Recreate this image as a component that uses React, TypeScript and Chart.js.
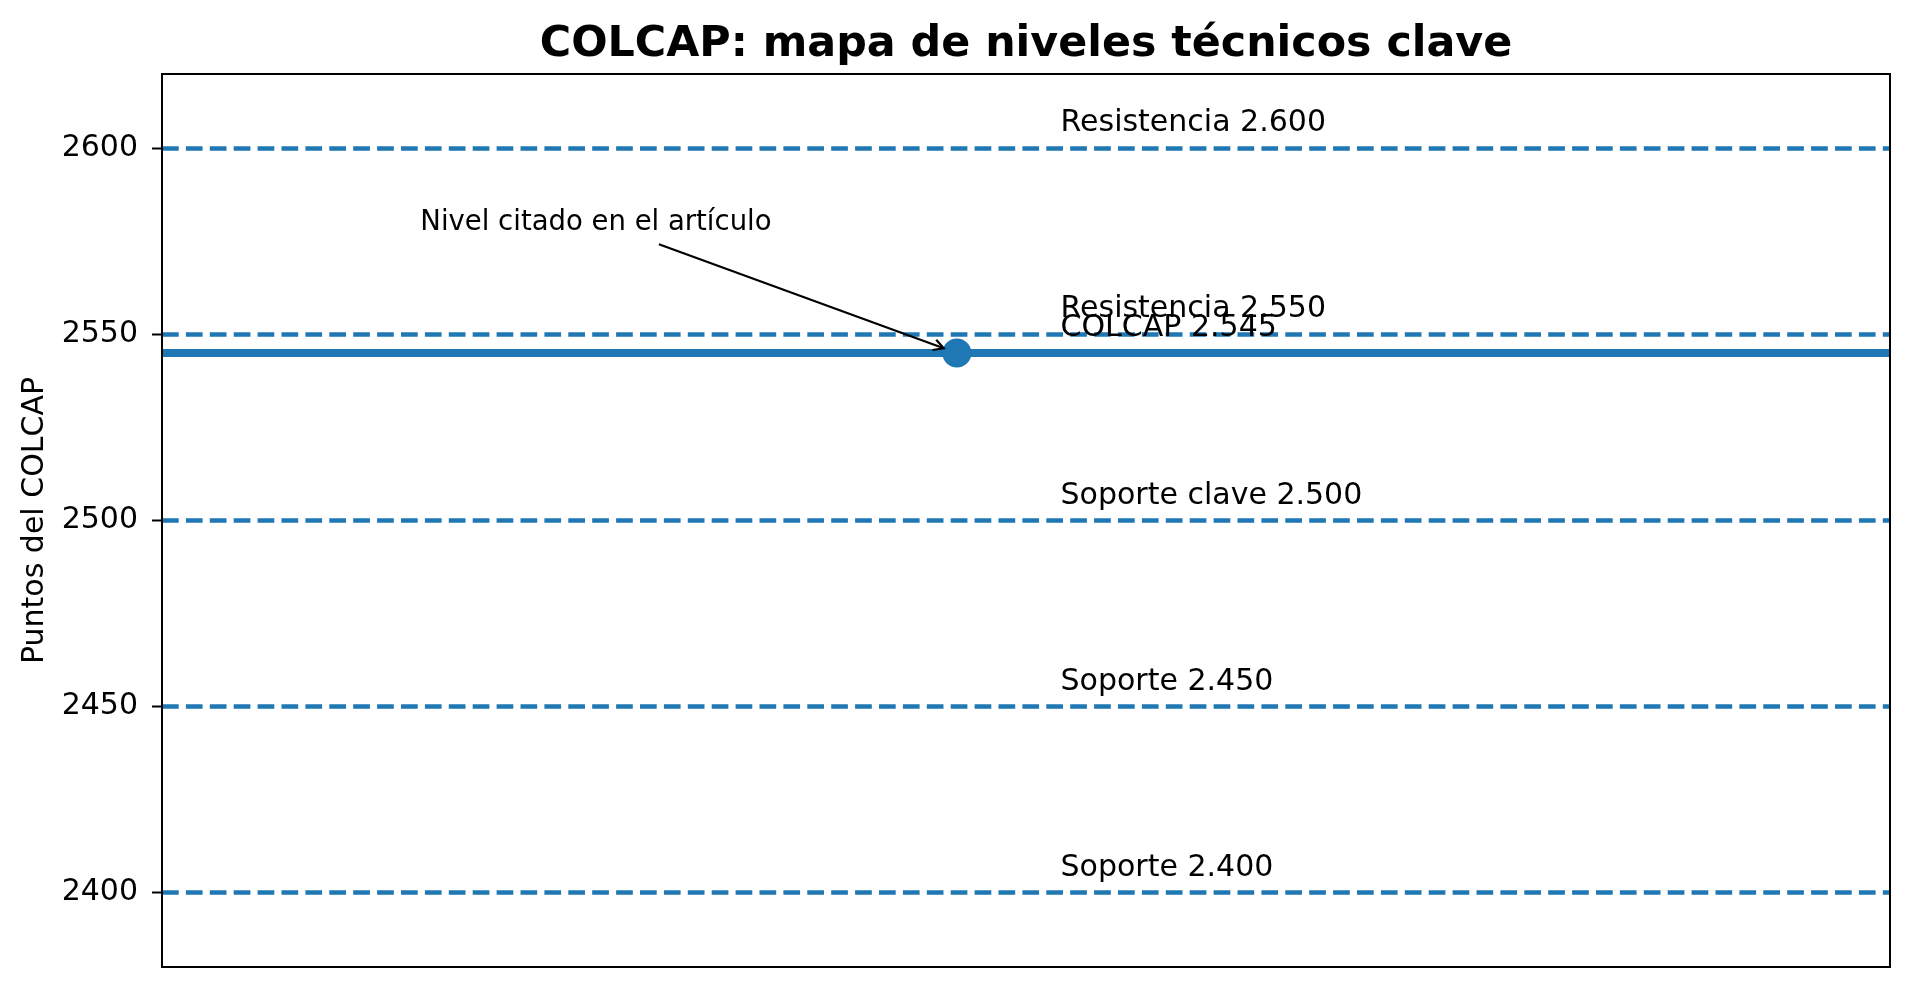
import React, { useEffect, useRef } from "react";
import { Chart, registerables } from "chart.js";

Chart.register(...registerables);

// ---- data ----
const levelValues = [2600, 2550, 2500, 2450, 2400];
const levelLabels = [
  "Resistencia 2.600",
  "Resistencia 2.550",
  "Soporte clave 2.500",
  "Soporte 2.450",
  "Soporte 2.400",
];
const currentValue = 2545;
const currentLabel = "COLCAP 2.545";
const yTicks = [2400, 2450, 2500, 2550, 2600];
const yRange = [2380, 2620];
const xRange = [0, 1];
const pointX = 0.46;
const labelX = 0.52;
const annotationText = "Nivel citado en el artículo";
const annotationPos = { x: 0.1495, y: 2578 };
const titleText = "COLCAP: mapa de niveles técnicos clave";
const yAxisTitle = "Puntos del COLCAP";

const BLUE = "#1f77b4";
const FONT = "'DejaVu Sans', sans-serif";
const W_PX = 1912;
const H_PX = 989;

const overlayPlugin = {
  id: "overlay",
  afterDatasetsDraw(chart: any) {
    const { ctx, scales } = chart;
    const xs = scales.x;
    const ys = scales.y;
    ctx.save();
    // level labels
    ctx.fillStyle = "#000";
    ctx.font = `30px ${FONT}`;
    ctx.textAlign = "left";
    ctx.textBaseline = "alphabetic";
    const lx = xs.getPixelForValue(labelX);
    levelValues.forEach((v, i) => {
      ctx.fillText(levelLabels[i], lx, ys.getPixelForValue(v) - 17);
    });
    ctx.fillText(currentLabel, lx, ys.getPixelForValue(currentValue) - 17);

    // annotation
    ctx.font = `27.5px ${FONT}`;
    const tx = xs.getPixelForValue(annotationPos.x);
    const ty = ys.getPixelForValue(annotationPos.y);
    ctx.fillText(annotationText, tx, ty);
    const w = ctx.measureText(annotationText).width;
    const cx = tx + w / 2;
    const cy = ty - 9;
    const px = xs.getPixelForValue(pointX);
    const py = ys.getPixelForValue(currentValue);
    const len = Math.hypot(px - cx, py - cy);
    const dx = (px - cx) / len;
    const dy = (py - cy) / len;
    const t0 = (ty + 14 - cy) / dy;
    const sx = cx + dx * t0;
    const sy = cy + dy * t0;
    const ex = px - dx * 14;
    const ey = py - dy * 14;
    ctx.strokeStyle = "#000";
    ctx.lineWidth = 2.2;
    ctx.lineCap = "butt";
    ctx.beginPath();
    ctx.moveTo(sx, sy);
    ctx.lineTo(ex, ey);
    ctx.stroke();
    const L = 10;
    const W = 5.5;
    const nx = -dy;
    const ny = dx;
    ctx.beginPath();
    ctx.moveTo(ex - dx * L + nx * W, ey - dy * L + ny * W);
    ctx.lineTo(ex, ey);
    ctx.lineTo(ex - dx * L - nx * W, ey - dy * L - ny * W);
    ctx.stroke();
    ctx.restore();
  },
  afterDraw(chart: any) {
    const { ctx, chartArea } = chart;
    ctx.save();
    // frame
    ctx.strokeStyle = "#000";
    ctx.lineWidth = 2;
    ctx.strokeRect(
      chartArea.left,
      chartArea.top,
      chartArea.right - chartArea.left,
      chartArea.bottom - chartArea.top
    );
    // title
    ctx.fillStyle = "#000";
    ctx.font = `bold 42.8px ${FONT}`;
    ctx.textAlign = "center";
    ctx.textBaseline = "alphabetic";
    ctx.fillText(titleText, (chartArea.left + chartArea.right) / 2, 56);
    // y label
    ctx.font = `30px ${FONT}`;
    ctx.translate(43, (chartArea.top + chartArea.bottom) / 2);
    ctx.rotate(-Math.PI / 2);
    ctx.fillText(yAxisTitle, 0, 0);
    ctx.restore();
  },
};

export default function App() {
  const ref = useRef<HTMLCanvasElement | null>(null);
  useEffect(() => {
    if (!ref.current) return;
    const dashed = levelValues.map((v) => ({
      data: [
        { x: xRange[0], y: v },
        { x: xRange[1], y: v },
      ],
      borderColor: BLUE,
      borderWidth: 4.5,
      borderDash: [16.7, 7.2],
      borderCapStyle: "butt" as const,
      pointRadius: 0,
      fill: false,
      order: 3,
    }));
    const chart = new Chart(ref.current, {
      type: "line",
      data: {
        datasets: [
          ...dashed,
          {
            data: [
              { x: xRange[0], y: currentValue },
              { x: xRange[1], y: currentValue },
            ],
            borderColor: BLUE,
            borderWidth: 8,
            borderCapStyle: "butt",
            pointRadius: 0,
            fill: false,
            order: 2,
          },
          {
            data: [{ x: pointX, y: currentValue }],
            showLine: false,
            pointRadius: 14.5,
            pointHoverRadius: 14.5,
            pointBackgroundColor: BLUE,
            pointBorderWidth: 0,
            borderColor: BLUE,
            order: 1,
          },
        ] as any,
      },
      options: {
        animation: false,
        responsive: false,
        devicePixelRatio: 1,
        events: [],
        layout: { autoPadding: false, padding: { left: 0, right: 22, top: 74, bottom: 22 } },
        plugins: {
          legend: { display: false },
          title: { display: false },
          tooltip: { enabled: false },
        },
        scales: {
          x: { type: "linear", min: xRange[0], max: xRange[1], display: false },
          y: {
            type: "linear",
            min: yRange[0],
            max: yRange[1],
            afterBuildTicks: (scale: any) => {
              scale.ticks = yTicks.map((v) => ({ value: v }));
            },
            afterFit: (scale: any) => {
              scale.width = 162;
              scale.paddingTop = 0;
              scale.paddingBottom = 0;
            },
            ticks: {
              font: { family: FONT, size: 30 },
              color: "#000",
              padding: 14,
              callback: (v: any) => String(v),
            },
            grid: {
              drawOnChartArea: false,
              drawTicks: true,
              tickLength: 10,
              tickWidth: 2,
              tickColor: "#000",
            },
            border: { display: true, color: "#000", width: 2 },
          },
        },
      } as any,
      plugins: [overlayPlugin],
    });
    return () => chart.destroy();
  }, []);
  return (
    <div style={{ position: "absolute", left: 0, top: 0, width: W_PX, height: H_PX, background: "#fff" }}>
      <canvas ref={ref} width={W_PX} height={H_PX} style={{ display: "block", width: W_PX, height: H_PX }} />
    </div>
  );
}
